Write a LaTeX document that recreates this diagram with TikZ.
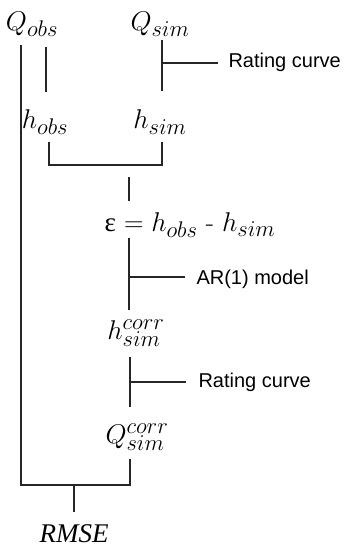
\documentclass[tikz,border=0pt]{standalone}
\usepackage{graphicx}
\usepackage{fontspec}
\setsansfont{Liberation Sans}
\newfontfamily\epsfont{Liberation Serif}
\newcommand{\mylbl}[1]{\scalebox{1.09}{\fontsize{24.88}{30}\selectfont #1}}
\begin{document}
\begin{tikzpicture}[x=1pt,y=-1pt,line width=1.1pt,
  mathlbl/.style={inner sep=0pt},
  lab/.style={inner sep=0pt,anchor=west,font=\sffamily\fontsize{20}{24}\selectfont},
  conn/.style={draw=black!85}]
\useasboundingbox (0,0) rectangle (348,548);
% nodes
\node[mathlbl] (qobs) at (32,24) {\mylbl{$Q_{obs}$}};
\node[mathlbl] (qsim) at (160,24) {\mylbl{$Q_{sim}$}};
\node[mathlbl] (hobs) at (45,122) {\mylbl{$h_{obs}$}};
\node[mathlbl] (hsim) at (160,122) {\mylbl{$h_{sim}$}};
\node[mathlbl] (eps) at (190,225) {\mylbl{{\epsfont ε} $=h_{obs}$ - $h_{sim}$}};
\node[mathlbl] (hcorr) at (136,333) {\mylbl{$h^{corr}_{sim}$}};
\node[mathlbl] (qcorr) at (137,437) {\mylbl{$Q^{corr}_{sim}$}};
\node[inner sep=0pt,font=\epsfont\itshape\fontsize{27}{31}\selectfont] (rmse) at (74,534) {RMSE};
\node[lab] (rc1) at (228,62) {Rating curve};
\node[lab] (ar) at (196,279) {AR(1) model};
\node[lab] (rc2) at (198,382) {Rating curve};
% junction coordinates
\coordinate (qo1) at (21,45);
\coordinate (qo2) at (21,485);
\coordinate (qc1) at (130,459);
\coordinate (qc2) at (130,485);
\coordinate (rm1) at (74,485);
\coordinate (rm2) at (74,512);
\coordinate (a1) at (46,47);
\coordinate (a2) at (46,92);
\coordinate (b1) at (162,40);
\coordinate (b2) at (162,91);
\coordinate (b3) at (162,63);
\coordinate (b4) at (218,63);
\coordinate (c1) at (49,142);
\coordinate (c2) at (49,165);
\coordinate (c3) at (162,165);
\coordinate (c4) at (162,142);
\coordinate (d1) at (129,177);
\coordinate (d2) at (129,201);
\coordinate (e1) at (129,238);
\coordinate (e2) at (129,310);
\coordinate (e3) at (129,277);
\coordinate (e4) at (185,277);
\coordinate (f1) at (130,357);
\coordinate (f2) at (130,407);
\coordinate (f3) at (130,382);
\coordinate (f4) at (186,382);
% connectors
\draw[conn] (qo1) -- (qo2) -- (qc2) -- (qc1);
\draw[conn] (rm1) -- (rm2);
\draw[conn] (a1) -- (a2);
\draw[conn] (b1) -- (b2);
\draw[conn] (b3) -- (b4);
\draw[conn] (c1) -- (c2) -- (c3) -- (c4);
\draw[conn] (d1) -- (d2);
\draw[conn] (e1) -- (e2);
\draw[conn] (e3) -- (e4);
\draw[conn] (f1) -- (f2);
\draw[conn] (f3) -- (f4);
\end{tikzpicture}
\end{document}
